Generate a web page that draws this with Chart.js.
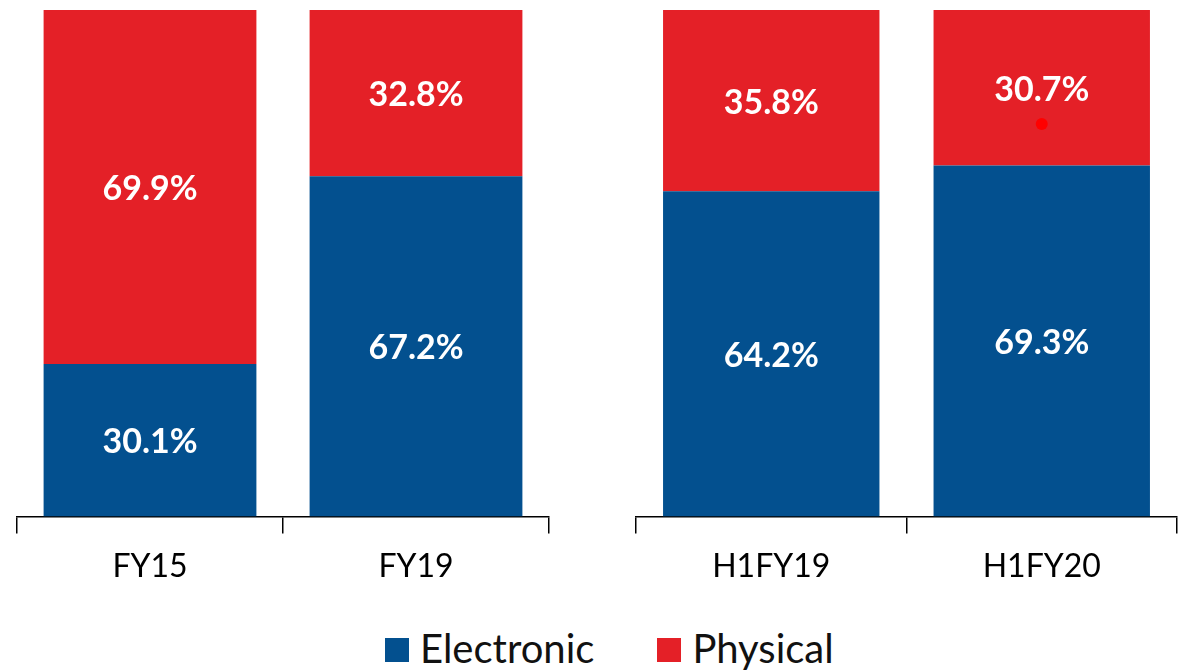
<!DOCTYPE html>
<html>
<head>
<meta charset="utf-8">
<script src="https://cdn.jsdelivr.net/npm/chart.js@4/dist/chart.umd.min.js"></script>
<style>
  body { margin: 0; background: #fff; width: 1183px; height: 670px; position: relative; overflow: hidden; font-family: Lato, sans-serif; }
  #left { position: absolute; left: 0; top: 0; }
  #right { position: absolute; left: 620px; top: 0; }
  #legend { position: absolute; left: 385px; top: 624px; display: flex; font-size: 40px; color: #111; }
  .item { display: flex; align-items: center; margin-right: 63px; }
  .box { width: 24px; height: 24px; margin-right: 11px; margin-top: 4px; }
</style>
</head>
<body>
<canvas id="left" width="560" height="600"></canvas>
<canvas id="right" width="563" height="600"></canvas>
<div id="legend"></div>
<script>
var leftLabels = ['FY15', 'FY19'];
var leftElectronic = [30.1, 67.2];
var leftPhysical = [69.9, 32.8];

var rightLabels = ['H1FY19', 'H1FY20'];
var rightElectronic = [64.2, 69.3];
var rightPhysical = [35.8, 30.7];
var rightMarker = [null, 77.5];

var seriesNames = ['Electronic', 'Physical'];
var seriesColors = ['#03508F', '#E42027'];

// draws the value in the middle of each bar segment
var barLabels = {
  id: 'barLabels',
  afterDatasetsDraw: function(chart) {
    var ctx = chart.ctx;
    ctx.save();
    ctx.font = 'bold 34px Lato';
    ctx.fillStyle = '#fff';
    ctx.textAlign = 'center';
    ctx.textBaseline = 'middle';
    chart.data.datasets.forEach(function(ds, i) {
      if (ds.type === 'line') return;
      chart.getDatasetMeta(i).data.forEach(function(bar, j) {
        var mid = (bar.y + bar.base) / 2;
        ctx.fillText(ds.data[j].toFixed(1) + '%', bar.x, mid + 2);
      });
    });
    ctx.restore();
  }
};

function makeChart(id, labels, electronic, physical, pad, marker) {
  var datasets = [
    { label: seriesNames[0], data: electronic, backgroundColor: seriesColors[0], stack: 'a',
      categoryPercentage: 0.8, barPercentage: 1.0 },
    { label: seriesNames[1], data: physical, backgroundColor: seriesColors[1], stack: 'a',
      categoryPercentage: 0.8, barPercentage: 1.0 }
  ];
  if (marker) {
    datasets.push({ type: 'line', label: 'marker', data: marker, stack: 'dot', showLine: false, order: -1,
      pointRadius: 6, pointBackgroundColor: '#FF0000', pointBorderWidth: 0 });
  }
  return new Chart(document.getElementById(id), {
    type: 'bar',
    data: { labels: labels, datasets: datasets },
    options: {
      responsive: false,
      animation: false,
      layout: { padding: { left: pad[0], right: pad[1], top: 10, bottom: 0 } },
      plugins: { legend: { display: false }, tooltip: { enabled: false } },
      scales: {
        x: {
          stacked: true,
          grid: { drawOnChartArea: false, color: '#000', tickLength: 17, lineWidth: 1.5, offset: true },
          border: { display: true, color: '#000', width: 1.5 },
          ticks: { color: '#000', font: { family: 'Lato', size: 32 }, padding: 14 }
        },
        y: { stacked: true, display: false, min: 0, max: 100 }
      }
    },
    plugins: [barLabels]
  });
}

makeChart('left', leftLabels, leftElectronic, leftPhysical, [17, 11]);
makeChart('right', rightLabels, rightElectronic, rightPhysical, [16, 2], rightMarker);

var legend = document.getElementById('legend');
seriesNames.forEach(function(name, i) {
  var item = document.createElement('div');
  item.className = 'item';
  var box = document.createElement('span');
  box.className = 'box';
  box.style.background = seriesColors[i];
  item.appendChild(box);
  item.appendChild(document.createTextNode(name));
  legend.appendChild(item);
});
</script>
</body>
</html>
